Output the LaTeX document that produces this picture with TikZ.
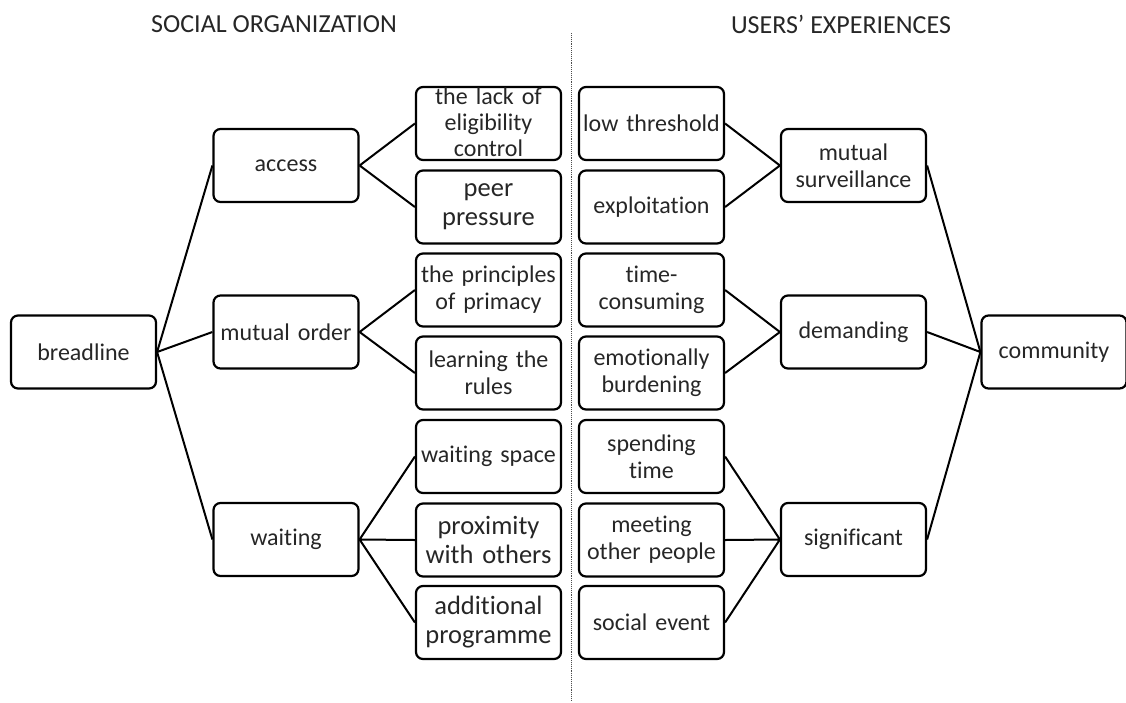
\documentclass[tikz,border=0pt]{standalone}
\usepackage{fontspec}
\setmainfont{Carlito}[Ligatures=NoCommon]

\begin{document}
\begin{tikzpicture}[x=1pt,y=-1pt,
  box/.style={draw,rounded corners=7pt,line width=2.2pt,inner sep=0pt,minimum width=145pt,minimum height=73pt,
    text width=145pt,align=center,text=black!85,font=\fontsize{24}{27}\selectfont},
  bigbox/.style={box,font=\fontsize{26.5}{29}\selectfont},
  heading/.style={text=black!85,font=\fontsize{26}{29}\selectfont},
  link/.style={line width=2pt}]
  \useasboundingbox (0,0) rectangle (1126,702);
  \path (274,24) node[heading] (hleft) {SOCIAL ORGANIZATION}
  (841,24) node[heading] (hright) {USERS’ EXPERIENCES};
  \coordinate (divtop) at (571,33);
  \coordinate (divbot) at (571,700);
  \draw[densely dotted,line width=0.9pt,black!70] (divtop) -- (divbot);
  % left half
  \path (83.5,352) node[box] (bread) {breadline}
  (286,165.5) node[box] (access) {access}
  (286,332) node[box] (order) {mutual order}
  (286,539.5) node[box] (wait) {waiting};
  \path (488.5,123.5) node[box,font=\fontsize{24}{26}\selectfont,text height=17pt,text depth=56pt] (lack) {the lack of\\ eligibility\\ control}
  (488.5,207) node[bigbox] (peer) {peer\\ pressure}
  (488.5,290) node[box] (prim) {the principles\\ of primacy}
  (488.5,373) node[box] (rules) {learning the\\ rules}
  (488.5,456.5) node[box] (space) {waiting space}
  (488.5,540) node[bigbox] (prox) {proximity\\ with others}
  (488.5,622.5) node[bigbox] (prog) {additional\\ programme};
  % right half
  \path (651.5,123.5) node[box] (low) {low threshold}
  (651.5,207) node[box] (expl) {exploitation}
  (651.5,290) node[box] (time) {time-\\ consuming}
  (651.5,373) node[box] (emo) {emotionally\\ burdening}
  (651.5,456.5) node[box] (spend) {spending\\ time}
  (651.5,540) node[box] (meet) {meeting\\ other people}
  (651.5,622.5) node[box] (event) {social event};
  \path (853.5,165.5) node[box] (surv) {mutual\\ surveillance}
  (853.5,332) node[box] (dem) {demanding}
  (853.5,539.5) node[box] (sig) {significant}
  (1054,352) node[box] (comm) {community};
  \draw[link] (bread.east) -- (access.west) (bread.east) -- (order.west) (bread.east) -- (wait.west);
  \draw[link] (access.east) -- (lack.west) (access.east) -- (peer.west);
  \draw[link] (order.east) -- (prim.west) (order.east) -- (rules.west);
  \draw[link] (wait.east) -- (space.west) (wait.east) -- (prox.west) (wait.east) -- (prog.west);
  \draw[link] (low.east) -- (surv.west) (expl.east) -- (surv.west);
  \draw[link] (time.east) -- (dem.west) (emo.east) -- (dem.west);
  \draw[link] (spend.east) -- (sig.west) (meet.east) -- (sig.west) (event.east) -- (sig.west);
  \draw[link] (surv.east) -- (comm.west) (dem.east) -- (comm.west) (sig.east) -- (comm.west);
\end{tikzpicture}
\end{document}
